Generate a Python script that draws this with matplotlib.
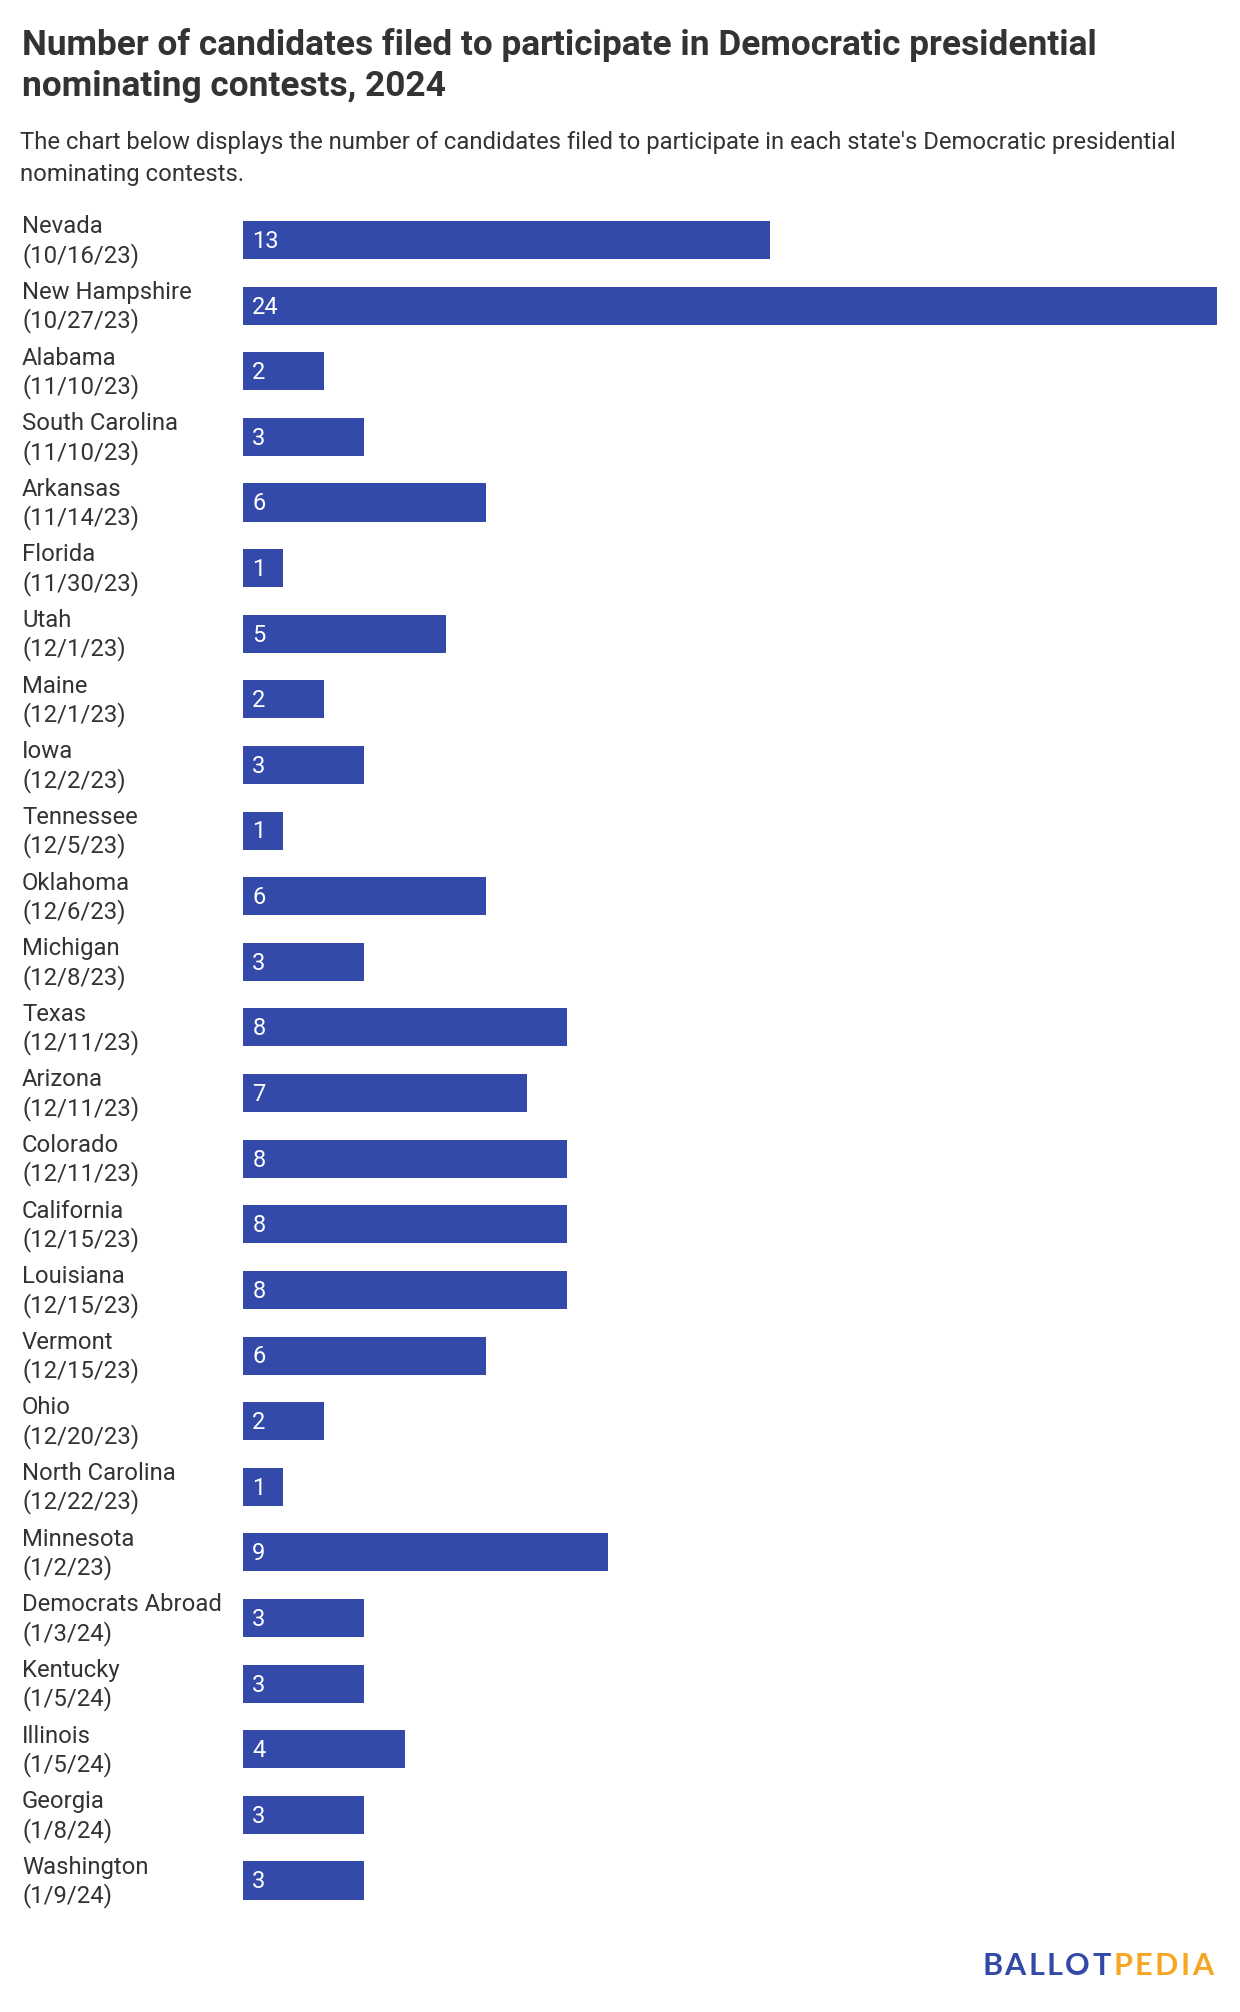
import matplotlib.pyplot as plt
from matplotlib.transforms import blended_transform_factory, offset_copy

plt.rcParams['font.family'] = ['Roboto', 'DejaVu Sans']

## data
states = ['Nevada', 'New Hampshire', 'Alabama', 'South Carolina', 'Arkansas',
          'Florida', 'Utah', 'Maine', 'Iowa', 'Tennessee', 'Oklahoma', 'Michigan',
          'Texas', 'Arizona', 'Colorado', 'California', 'Louisiana', 'Vermont',
          'Ohio', 'North Carolina', 'Minnesota', 'Democrats Abroad', 'Kentucky',
          'Illinois', 'Georgia', 'Washington']
dates = ['10/16/23', '10/27/23', '11/10/23', '11/10/23', '11/14/23', '11/30/23',
         '12/1/23', '12/1/23', '12/2/23', '12/5/23', '12/6/23', '12/8/23',
         '12/11/23', '12/11/23', '12/11/23', '12/15/23', '12/15/23', '12/15/23',
         '12/20/23', '12/22/23', '1/2/23', '1/3/24', '1/5/24', '1/5/24',
         '1/8/24', '1/9/24']
candidates = [13, 24, 2, 3, 6, 1, 5, 2, 3, 1, 6, 3, 8, 7, 8, 8, 8, 6, 2, 1, 9,
              3, 3, 4, 3, 3]

W, H = 1240, 2012
fig = plt.figure(figsize=(W / 100, H / 100), dpi=100)

bar_col = '#334aab'
txt_col = '#333333'

## axes placed in pixel coords
left, right = 242.6, 1217
top, bottom = 207.2, 1913.3
ax = fig.add_axes([left / W, 1 - bottom / H, (right - left) / W, (bottom - top) / H])
n = len(states)
ypos = list(range(n))
ax.barh(ypos, candidates, height=0.58, color=bar_col)
ax.set_xlim(0, 24)
ax.set_ylim(n - 0.5, -0.5)
ax.axis('off')

for i, v in enumerate(candidates):
    ax.annotate(str(v), (0, i), xytext=(7, -1), textcoords='offset points',
                ha='left', va='center', color='white', fontsize=17)

tr = blended_transform_factory(fig.transFigure, ax.transData)
tr = offset_copy(tr, fig=fig, y=-1.5, units='dots')
for i in range(n):
    fig.text(22 / W, i, states[i] + '\n(' + dates[i] + ')', transform=tr,
             ha='left', va='center', fontsize=17.2, color=txt_col, linespacing=1.23)

## title + subtitle
fig.text(22 / W, 1 - 55 / H, 'Number of candidates filed to participate in Democratic presidential',
         fontsize=25.4, fontweight='bold', color=txt_col, va='baseline')
fig.text(22 / W, 1 - 96 / H, 'nominating contests, 2024',
         fontsize=25.4, fontweight='bold', color=txt_col, va='baseline')
fig.text(20 / W, 1 - 148.5 / H, "The chart below displays the number of candidates filed to participate in each state's Democratic presidential",
         fontsize=17.2, color=txt_col, va='baseline')
fig.text(20 / W, 1 - 181.5 / H, 'nominating contests.',
         fontsize=17.2, color=txt_col, va='baseline')

## logo, letter by letter with extra tracking
r = fig.canvas.get_renderer()
x = 982
for k, ch in enumerate('BALLOTPEDIA'):
    col = '#3349a8' if k < 6 else '#f5a623'
    t = fig.text(x / W, 1 - 1975 / H, ch, fontsize=22, fontweight='bold',
                 family=['Lato', 'DejaVu Sans'], color=col, va='baseline')
    bb = t.get_window_extent(renderer=r)
    x = bb.x1 + 2.5

fig.savefig('out.png', dpi=100, facecolor='white')
